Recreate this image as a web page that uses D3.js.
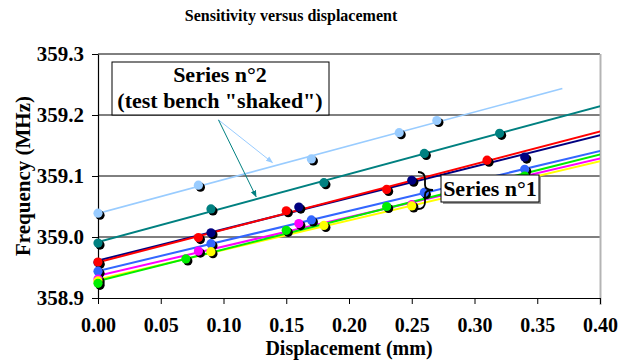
<!DOCTYPE html>
<html>
<head>
<meta charset="utf-8">
<script src="https://cdn.jsdelivr.net/npm/d3@7"></script>
<style>
  body { margin: 0; background: #fff; }
</style>
</head>
<body>
<figure id="sensitivity" style="margin:0"></figure>
<script>
// values
const xTicks = [0, 0.05, 0.10, 0.15, 0.20, 0.25, 0.30, 0.35, 0.40];
const yTicks = [358.9, 359.0, 359.1, 359.2, 359.3];

const seriesNames = ["s2a", "s2b", "s1a", "s1b", "s1c", "s1d", "s1e", "s1f"];
const seriesColors = ["#99ccff", "#008080", "#000080", "#ff0000", "#3366ff", "#ff00ff", "#ffff00", "#00ee00"];

const lightBlueX = [0, 0.08, 0.17, 0.24, 0.27];
const lightBlueY = [359.039, 359.085, 359.128, 359.171, 359.191];
const tealX = [0, 0.09, 0.18, 0.26, 0.32];
const tealY = [358.990, 359.046, 359.089, 359.137, 359.170];
const navyX = [0, 0.09, 0.16, 0.25, 0.34];
const navyY = [358.958, 359.007, 359.049, 359.093, 359.131];
const redX = [0, 0.08, 0.15, 0.23, 0.31];
const redY = [358.959, 358.999, 359.043, 359.078, 359.126];
const blueX = [0, 0.09, 0.17, 0.26, 0.34];
const blueY = [358.944, 358.989, 359.028, 359.073, 359.111];
const magentaX = [0, 0.08, 0.16, 0.25, 0.34];
const magentaY = [358.931, 358.977, 359.022, 359.053, 359.098];
const yellowX = [0, 0.09, 0.18, 0.25, 0.34];
const yellowY = [358.928, 358.976, 359.019, 359.051, 359.094];
const greenX = [0, 0.07, 0.15, 0.23, 0.34];
const greenY = [358.924, 358.964, 359.011, 359.050, 359.100];

const allX = [lightBlueX, tealX, navyX, redX, blueX, magentaX, yellowX, greenX];
const allY = [lightBlueY, tealY, navyY, redY, blueY, magentaY, yellowY, greenY];

const width = 632, height = 361;
const margin = {top: 54, right: 32, bottom: 63, left: 98};
const serif = "'Times New Roman', 'Liberation Serif', Tinos, 'Nimbus Roman', 'DejaVu Serif', 'Noto Serif', serif";

const svg = d3.select("figure#sensitivity")
  .append("svg")
  .attr("width", width)
  .attr("height", height)
  .style("font-family", serif)
  .style("font-weight", "bold");

const xScale = d3.scaleLinear().domain([0, 0.40]).range([margin.left, width - margin.right]);
const yScale = d3.scaleLinear().domain([358.9, 359.3]).range([height - margin.bottom, margin.top]);

// title
svg.append("text")
  .attr("x", 291).attr("y", 21)
  .attr("text-anchor", "middle")
  .style("font-size", "16px")
  .text("Sensitivity versus displacement");

// grid lines
svg.append("g")
  .selectAll("line")
  .data(yTicks.slice(1))
  .join("line")
  .attr("x1", xScale(0)).attr("x2", xScale(0.40))
  .attr("y1", d => yScale(d)).attr("y2", d => yScale(d))
  .attr("stroke", "#000").attr("stroke-width", 1);

// right border
svg.append("line")
  .attr("x1", xScale(0.40) + 0.5).attr("x2", xScale(0.40) + 0.5)
  .attr("y1", yScale(359.3)).attr("y2", yScale(358.9) + 7)
  .attr("stroke", "#b4b4b4").attr("stroke-width", 2);

const yAxis = svg.append("g")
  .attr("transform", `translate(${xScale(0)},0)`)
  .call(d3.axisLeft(yScale).tickValues(yTicks).tickFormat(d3.format(".1f")).tickSize(6).tickSizeOuter(0).tickPadding(8));
const xAxis = svg.append("g")
  .attr("transform", `translate(0,${yScale(358.9)})`)
  .call(d3.axisBottom(xScale).tickValues(xTicks).tickFormat(d3.format(".2f")).tickSize(6).tickSizeOuter(0).tickPadding(14));
[yAxis, xAxis].forEach(a => {
  a.attr("font-family", null).attr("font-size", null);
  a.select(".domain").attr("stroke", "#000").attr("stroke-width", 1.2);
  a.selectAll(".tick line").attr("stroke", "#000");
  a.selectAll(".tick text").style("font-size", "21px").attr("fill", "#000");
});
xAxis.selectAll(".tick text").style("font-size", "20px");

// axis labels
svg.append("text")
  .attr("x", (xScale(0) + xScale(0.40)) / 2).attr("y", 355)
  .attr("text-anchor", "middle")
  .style("font-size", "20px")
  .text("Displacement (mm)");
svg.append("text")
  .attr("transform", `translate(30,${(yScale(358.9) + yScale(359.3)) / 2}) rotate(-90)`)
  .attr("text-anchor", "middle")
  .style("font-size", "21px")
  .text("Frequency (MHz)");

// linear trend lines, forecast 0.1 forward like the spreadsheet
function fit(xs, ys) {
  const mx = d3.mean(xs), my = d3.mean(ys);
  const slope = d3.sum(xs, (x, i) => (x - mx) * (ys[i] - my)) / d3.sum(xs, x => (x - mx) * (x - mx));
  return {slope: slope, intercept: my - slope * mx};
}

svg.append("clipPath").attr("id", "plot-clip")
  .append("rect")
  .attr("x", xScale(0)).attr("y", yScale(359.3))
  .attr("width", xScale(0.40) - xScale(0)).attr("height", yScale(358.9) - yScale(359.3));

const trend = svg.append("g").attr("clip-path", "url(#plot-clip)");
seriesNames.forEach((name, i) => {
  const f = fit(allX[i], allY[i]);
  const x0 = d3.min(allX[i]);
  const x1 = Math.min(d3.max(allX[i]) + 0.1, 0.45);
  trend.append("line")
    .attr("class", name)
    .attr("x1", xScale(x0)).attr("y1", yScale(f.intercept + f.slope * x0))
    .attr("x2", xScale(x1)).attr("y2", yScale(f.intercept + f.slope * x1))
    .attr("stroke", seriesColors[i])
    .attr("stroke-width", i === 0 ? 1.6 : 2);
});

// markers with the dark drop shadow
seriesNames.forEach((name, i) => {
  const pts = allX[i].map((x, j) => ({x: x, y: allY[i][j]}));
  const g = svg.append("g").attr("class", name + "-pts");
  g.selectAll("circle.shadow")
    .data(pts).join("circle")
    .attr("class", "shadow")
    .attr("cx", d => xScale(d.x) + 2).attr("cy", d => yScale(d.y) + 2)
    .attr("r", 4.6).attr("fill", "#000");
  g.selectAll("circle.dot")
    .data(pts).join("circle")
    .attr("class", "dot")
    .attr("cx", d => xScale(d.x)).attr("cy", d => yScale(d.y))
    .attr("r", 4.6).attr("fill", seriesColors[i]);
});

// annotation: series 2 box and arrows
const defs = svg.append("defs");
[["head-lb", seriesColors[0]], ["head-teal", seriesColors[1]]].forEach(([id, c]) => {
  defs.append("marker").attr("id", id)
    .attr("viewBox", "0 0 10 10").attr("refX", 9).attr("refY", 5)
    .attr("markerWidth", 7).attr("markerHeight", 7).attr("orient", "auto-start-reverse")
    .append("path").attr("d", "M0,1 L10,5 L0,9 Z").attr("fill", c);
});
const arrowStart = {x: 0.096, y: 359.192};
svg.append("line")
  .attr("x1", xScale(arrowStart.x)).attr("y1", yScale(arrowStart.y))
  .attr("x2", xScale(0.139)).attr("y2", yScale(359.122))
  .attr("stroke", seriesColors[0]).attr("stroke-width", 1)
  .attr("marker-end", "url(#head-lb)");
svg.append("line")
  .attr("x1", xScale(arrowStart.x)).attr("y1", yScale(arrowStart.y))
  .attr("x2", xScale(0.126)).attr("y2", yScale(359.066))
  .attr("stroke", seriesColors[1]).attr("stroke-width", 1)
  .attr("marker-end", "url(#head-teal)");

svg.append("rect")
  .attr("x", 112).attr("y", 62).attr("width", 217).attr("height", 53)
  .attr("fill", "#fff").attr("stroke", "#000").attr("stroke-width", 1);
svg.append("text")
  .attr("x", 220).attr("y", 82)
  .attr("text-anchor", "middle").style("font-size", "22px")
  .text("Series n°2");
svg.append("text")
  .attr("x", 220).attr("y", 108)
  .attr("text-anchor", "middle").style("font-size", "22px")
  .text("(test bench \"shaked\")");

// annotation: series 1 brace and box
svg.append("path")
  .attr("d", "M418,172 Q425,172 425,179 L425,185 Q425,190 433,190 Q425,190 425,195 L425,202 Q425,209 418,209")
  .attr("fill", "none").attr("stroke", "#000").attr("stroke-width", 1.8);
svg.append("rect")
  .attr("x", 443).attr("y", 177).attr("width", 98).attr("height", 27)
  .attr("fill", "#9a9a9a");
svg.append("rect")
  .attr("x", 441).attr("y", 175).attr("width", 98).attr("height", 27)
  .attr("fill", "#fff").attr("stroke", "#000").attr("stroke-width", 1);
svg.append("text")
  .attr("x", 490).attr("y", 196)
  .attr("text-anchor", "middle").style("font-size", "22px")
  .text("Series n°1");
</script>
</body>
</html>
